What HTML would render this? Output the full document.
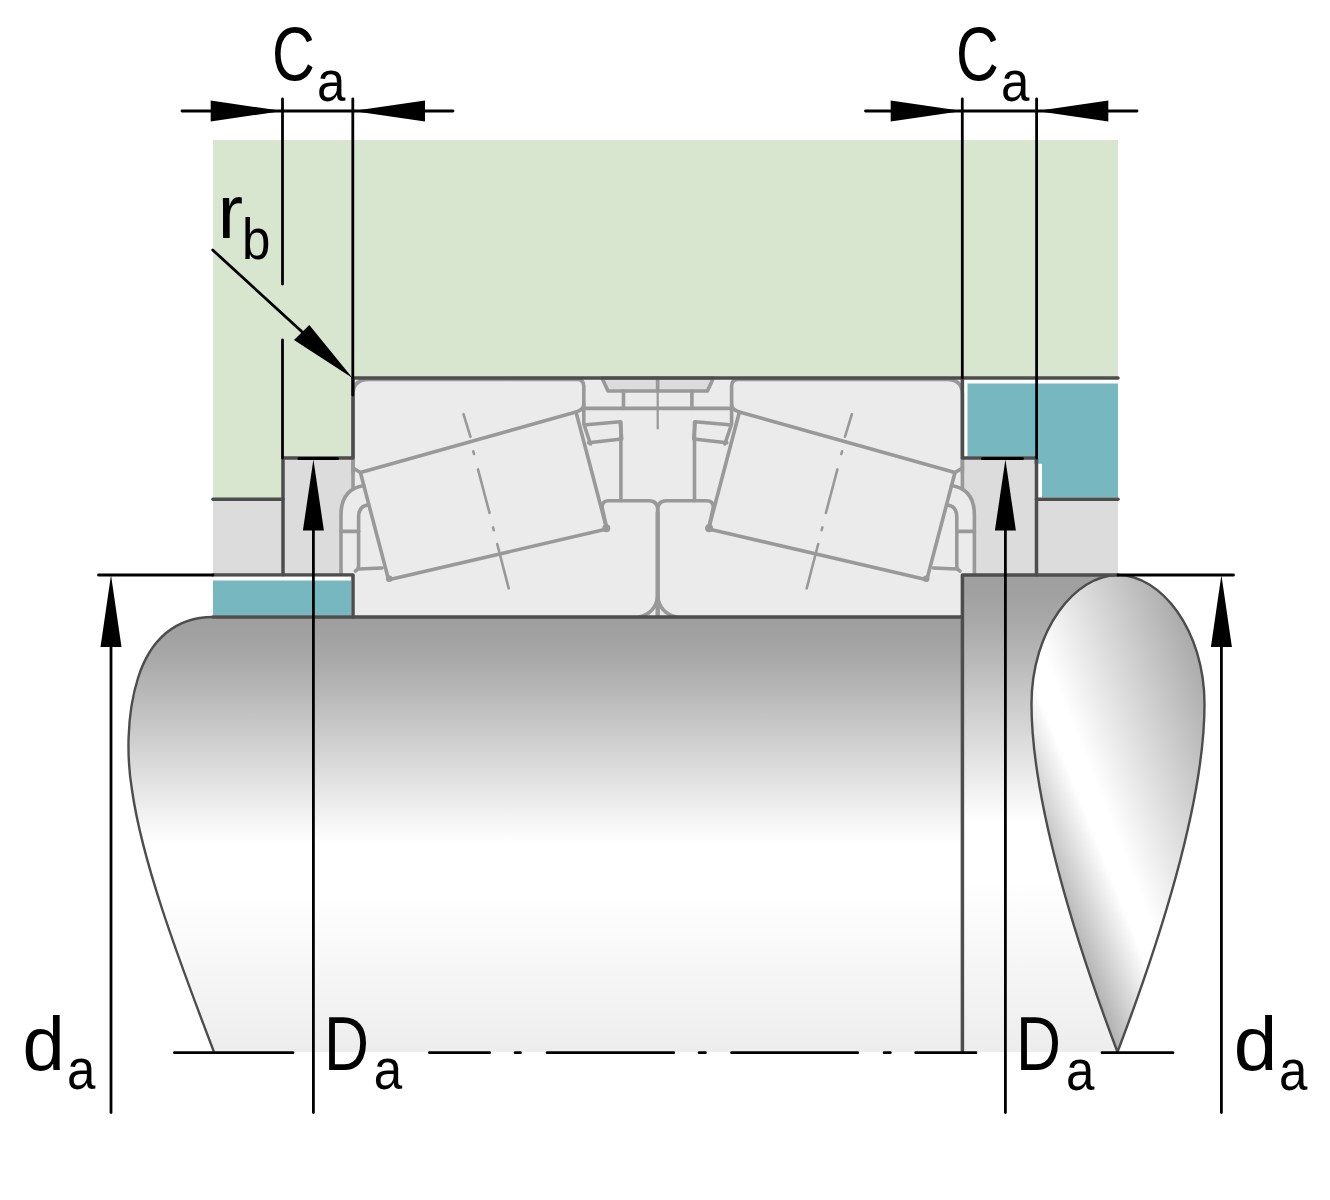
<!DOCTYPE html>
<html lang="en">
<head>
<meta charset="utf-8">
<title>Abutment dimensions – tapered roller bearing</title>
<style>
html,body{margin:0;padding:0;background:#fff;}
svg{display:block;}
text{font-family:"Liberation Sans","DejaVu Sans",sans-serif;fill:#000;}
</style>
</head>
<body>
<svg width="1330" height="1200" viewBox="0 0 1330 1200">
<defs>
<linearGradient id="gShaft" gradientUnits="userSpaceOnUse" x1="0" y1="617" x2="0" y2="1052">
<stop offset="0" stop-color="#9f9f9f"/>
<stop offset="0.03" stop-color="#a0a0a0"/>
<stop offset="0.10" stop-color="#a9a9a9"/>
<stop offset="0.19" stop-color="#bbbbbb"/>
<stop offset="0.28" stop-color="#cecece"/>
<stop offset="0.37" stop-color="#e0e0e0"/>
<stop offset="0.455" stop-color="#f2f2f2"/>
<stop offset="0.52" stop-color="#ffffff"/>
<stop offset="0.64" stop-color="#ffffff"/>
<stop offset="0.86" stop-color="#f4f4f4"/>
<stop offset="1" stop-color="#ededed"/>
</linearGradient>
<linearGradient id="gShoulder" gradientUnits="userSpaceOnUse" x1="0" y1="575" x2="0" y2="1052">
<stop offset="0" stop-color="#9f9f9f"/>
<stop offset="0.03" stop-color="#a0a0a0"/>
<stop offset="0.10" stop-color="#a9a9a9"/>
<stop offset="0.19" stop-color="#bbbbbb"/>
<stop offset="0.28" stop-color="#cecece"/>
<stop offset="0.37" stop-color="#e0e0e0"/>
<stop offset="0.455" stop-color="#f2f2f2"/>
<stop offset="0.52" stop-color="#ffffff"/>
<stop offset="0.64" stop-color="#ffffff"/>
<stop offset="0.86" stop-color="#f4f4f4"/>
<stop offset="1" stop-color="#ededed"/>
</linearGradient>
<linearGradient id="gDrop" gradientUnits="userSpaceOnUse" x1="1000.7" y1="777.7" x2="1223.4" y2="688.7">
<stop offset="0" stop-color="#a8a8a8"/>
<stop offset="0.275" stop-color="#ffffff"/>
<stop offset="0.36" stop-color="#ffffff"/>
<stop offset="1" stop-color="#a4a4a4"/>
</linearGradient>
</defs>

<!-- housing (green) -->
<rect x="213" y="140" width="905" height="238" fill="#d9e6cf"/>
<rect x="213" y="378" width="140" height="122" fill="#d9e6cf"/>
<!-- left spacer greys -->
<rect x="213" y="500" width="70" height="75" fill="#dcdcdc"/>
<rect x="283" y="458" width="70" height="117" fill="#dcdcdc"/>
<!-- right spacer greys -->
<rect x="962" y="458" width="75" height="117" fill="#dcdcdc"/>
<rect x="1037" y="500" width="81" height="75" fill="#dcdcdc"/>
<!-- teal parts -->
<rect x="213" y="580.5" width="138" height="35" fill="#76b7c0"/>
<path d="M967.5,383.5H1118V497.5H1042V463.7H1034V456.5H967.5Z" fill="#76b7c0"/>

<!-- shaft -->
<path id="shaftMain" d="M213,617C175,617 150,640 138,678C126,716 127,760 132,790C142,860 175,950 214,1052H962V617Z" fill="url(#gShaft)"/>
<path d="M962,575H1118V1052H962Z" fill="url(#gShoulder)"/>
<path d="M1118,575C1075,575 1031.5,630 1031.5,704C1031.5,800 1075,940 1117.5,1052C1160,940 1204.5,800 1204.5,704C1204.5,630 1161,575 1118,575Z" fill="url(#gDrop)" stroke="#4d4d4d" stroke-width="2.4" stroke-linejoin="round"/>
<path d="M213,617C175,617 150,640 138,678C126,716 127,760 132,790C142,860 175,950 214,1052" fill="none" stroke="#4d4d4d" stroke-width="2.4"/>

<!-- bearing body -->
<rect x="353" y="378" width="609.4" height="239" fill="#ebebeb"/>
<path d="M354,488Q341,492 341,515V574H354Z" fill="#ebebeb"/>
<path d="M961.4,488Q974.4,492 974.4,515V574H961.4Z" fill="#ebebeb"/>

<g id="half" fill="none" stroke="#999999" stroke-width="3.6" stroke-linecap="round" stroke-linejoin="round">
<!-- lubrication groove -->
<path d="M602,378L608,391H657.7V378Z" fill="#dcdcdc"/>
<path d="M623.5,391V408.4"/>
<path d="M583.8,408.4H657.7"/>
<!-- outer ring -->
<path d="M353,472V394Q353,379.5 369,379.5H577Q583.8,379.5 583.8,386V404Q583.8,409.5 577,411.6"/>
<path d="M583.8,404V424L590.5,444"/>
<path d="M360.4,472.5L353,468"/>
<!-- roller -->
<path d="M360.4,472.5L576,412L606.8,529L388.6,579.8Z"/>
<circle cx="606.3" cy="528.3" r="4" fill="#999999" stroke="none"/>
<circle cx="389.2" cy="578.8" r="3.3" fill="#999999" stroke="none"/>
<!-- roller axis -->
<path d="M463.5,414.2L470.4,436.7M473.3,451.3L474,454M478,469.4L489.5,512.9M493,527.4L493.8,530.2M497.2,544L508.7,588.3" stroke-width="2.6"/>
<!-- cage small end -->
<path d="M586.3,424.7L620.2,421.7L621.7,439L588.6,442.7"/>
<path d="M620.9,422V500.6"/>
<!-- inner ring -->
<path d="M606.5,527L602.4,509Q601,500.7 609,500.7H649Q657.7,500.7 657.7,510V617"/>
<path d="M639,617Q655.5,613 657.7,597"/>
<!-- cage big end -->
<path d="M353,458V489"/>
<path d="M364,485.5Q341,489 341,515V574"/>
<path d="M368,505Q358.6,506 358.6,517V566Q358.6,569 355.5,571"/>
<path d="M341,531.4H358.6"/>
<path d="M358.6,569L382,568"/>
</g>
<use href="#half" transform="translate(1315.4,0) scale(-1,1)"/>
<!-- centre line of bearing top -->
<path d="M657.7,512V616" stroke="#999999" stroke-width="4.2" fill="none"/>
<path d="M657.7,381V428.4" stroke="#999999" stroke-width="2.2" stroke-linecap="round" fill="none"/>

<!-- dark outlines -->
<g fill="none" stroke="#4d4d4d" stroke-width="3.5" stroke-linecap="round" stroke-linejoin="round">
<path d="M353,378H1118"/>
<path d="M353,378V458H283V575"/>
<path d="M213,499.3H283"/>
<path d="M213,575H353V617"/>
<path d="M213,617H962"/>
<path d="M962.4,378V458H1036.5V575"/>
<path d="M1036.5,499.3H1118"/>
<path d="M962.4,1052V575H1118"/>
</g>

<!-- white gaps -->
<path d="M213,578.2H351" stroke="#fff" stroke-width="3" fill="none"/>

<!-- dimension lines (black) -->
<g fill="none" stroke="#000" stroke-width="2.8" stroke-linecap="round">
<path d="M182,111H453"/>
<path d="M865.5,111H1137"/>
<path d="M282.5,99V284M282.5,340V458"/>
<path d="M352.8,99V395"/>
<path d="M962.3,99V378"/>
<path d="M1036.6,99V458"/>
<path d="M212.7,250L340,366.5"/>
<path d="M98.5,575H213"/>
<path d="M1118,575H1233.5"/>
<path d="M111,600V1112.5"/>
<path d="M313.4,480V1112.5"/>
<path d="M1005.4,480V1112.5"/>
<path d="M1221.4,600V1112.5"/>
<path d="M299,458.4H337.5" stroke-width="3"/>
<path d="M982.5,458.4H1022.5" stroke-width="3"/>
<!-- centre line -->
<path d="M174.4,1052.7H293M429.4,1052.7H489.7M515.1,1052.7H520.4M547.1,1052.7H673.8M699.1,1052.7H705.4M731.6,1052.7H857.8M884.1,1052.7H890.3M915.7,1052.7H976M1102,1052.7H1173"/>
</g>
<!-- arrow heads -->
<g fill="#000" stroke="none">
<path d="M282.3,111L210.7,100.5V121.5Z"/>
<path d="M352.8,111L425,100.5V121.5Z"/>
<path d="M962.3,111L890.7,100.5V121.5Z"/>
<path d="M1036.6,111L1108.3,100.5V121.5Z"/>
<path d="M111,575L100.5,647H121.5Z"/>
<path d="M1221.4,575L1210.9,647H1231.9Z"/>
<path d="M313.4,459.5L302.9,530.5H323.9Z"/>
<path d="M1005.4,459.5L994.9,530.5H1015.9Z"/>
<path d="M352.5,378L294,340L309.3,325Z"/>
</g>

<!-- labels -->
<text id="tC1" x="272" y="80.5" font-size="76" transform="translate(272,0) scale(0.78,1) translate(-272,0)">C</text>
<text id="ta1" x="317" y="101" font-size="58" transform="translate(317,0) scale(0.88,1) translate(-317,0)">a</text>
<text id="tC2" x="956" y="80.5" font-size="76" transform="translate(956,0) scale(0.78,1) translate(-956,0)">C</text>
<text id="ta2" x="1001" y="101" font-size="58" transform="translate(1001,0) scale(0.88,1) translate(-1001,0)">a</text>
<text id="tr" x="217.7" y="238.3" font-size="76">r</text>
<text id="tb" x="242" y="259.3" font-size="58" transform="translate(242,0) scale(0.88,1) translate(-242,0)">b</text>
<text id="td1" x="22.5" y="1070" font-size="76" transform="translate(22.5,0) scale(1.0,1) translate(-22.5,0)">d</text>
<text id="ta3" x="67" y="1089.5" font-size="58" transform="translate(67,0) scale(0.88,1) translate(-67,0)">a</text>
<text id="tD1" x="324" y="1070" font-size="76" transform="translate(324,0) scale(0.82,1) translate(-324,0)">D</text>
<text id="ta4" x="373.7" y="1089.5" font-size="58" transform="translate(373.7,0) scale(0.88,1) translate(-373.7,0)">a</text>
<text id="tD2" x="1016" y="1070.5" font-size="76" transform="translate(1016,0) scale(0.82,1) translate(-1016,0)">D</text>
<text id="ta5" x="1066" y="1090.5" font-size="58" transform="translate(1066,0) scale(0.88,1) translate(-1066,0)">a</text>
<text id="td2" x="1233.8" y="1070.5" font-size="76" transform="translate(1233.8,0) scale(1.03,1) translate(-1233.8,0)">d</text>
<text id="ta6" x="1279" y="1090.5" font-size="58" transform="translate(1279,0) scale(0.88,1) translate(-1279,0)">a</text>
</svg>
</body>
</html>
